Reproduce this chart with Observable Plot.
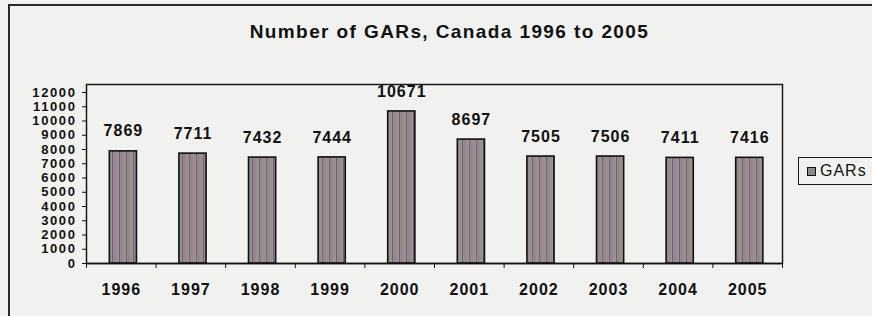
<!DOCTYPE html>
<html>
<head>
<meta charset="utf-8">
<script src="https://cdn.jsdelivr.net/npm/d3@7"></script>
<script src="https://cdn.jsdelivr.net/npm/@observablehq/plot@0.6"></script>
<style>
  html, body { margin: 0; padding: 0; background: #f1f1ef; overflow: hidden; }
  #wrap { position: relative; width: 872px; height: 316px; overflow: hidden; font-family: "Liberation Sans", Arial, sans-serif; color: #111; }
  #outer { position: absolute; left: 8px; top: 4px; width: 900px; height: 400px; border: 2px solid #2a2a2a; }
  #title { position: absolute; left: 0; width: 899px; top: 22px; text-align: center; font-size: 19px; font-weight: bold; letter-spacing: 1.4px; line-height: 1; white-space: nowrap; }
  #chart { position: absolute; left: 0; top: 0; }
  #chart svg text { letter-spacing: 1px; }
  #chart svg g[aria-label="y-axis tick label"] text { letter-spacing: 1.6px; }
  #legend { position: absolute; left: 798px; top: 157px; width: 100px; height: 26px; border: 1.5px solid #1a1a1a; display: flex; align-items: center; font-size: 16px; letter-spacing: 1px; }
  #legend .sw { width: 7px; height: 7px; border: 1.5px solid #111; margin-left: 8px; margin-right: 4px; background: #8e8a8c; }
</style>
</head>
<body>
<div id="wrap">
  <div id="outer"></div>
  <div id="chart"></div>
  <div id="title">Number of GARs, Canada 1996 to 2005</div>
  <div id="legend"><span class="sw"></span><span>GARs</span></div>
</div>
<script>
const years = [1996, 1997, 1998, 1999, 2000, 2001, 2002, 2003, 2004, 2005];
const gars = [7869, 7711, 7432, 7444, 10671, 8697, 7505, 7506, 7411, 7416];
const yTicks = [0, 1000, 2000, 3000, 4000, 5000, 6000, 7000, 8000, 9000, 10000, 11000, 12000];

const data = years.map((y, i) => ({year: y, value: gars[i]}));
const boundaries = years.map(y => y - 0.5).concat([years[years.length - 1] + 0.5]);
const half = 0.195;

const chart = Plot.plot({
  width: 872,
  height: 316,
  marginLeft: 86,
  marginRight: 90,
  marginTop: 92,
  marginBottom: 53,
  x: {type: "linear", domain: [boundaries[0], boundaries[boundaries.length - 1]]},
  y: {domain: [0, 12000]},
  style: {background: "transparent", fontFamily: "'Liberation Sans', Arial, sans-serif", color: "#111"},
  marks: [
    Plot.frame({insetTop: -8, stroke: "#1a1a1a", strokeWidth: 1.5}),
    Plot.rectY(data, {x1: d => d.year - half + 0.03, x2: d => d.year + half + 0.03, y: "value", fill: "url(#stripes)", stroke: "#111", strokeWidth: 1.6}),
    Plot.text(data, {x: d => d.year + 0.03, y: "value", text: d => String(d.value), dy: -20, fontSize: 16, fontWeight: "bold", fill: "#111"}),
    Plot.axisY({ticks: yTicks, tickSize: 4, tickPadding: 6, tickFormat: d => String(d), fontSize: 13, fontWeight: "bold", label: null, stroke: "#111"}),
    Plot.axisX({ticks: boundaries, tickSize: 5, tickFormat: () => "", label: null, stroke: "#111"}),
    Plot.axisX({ticks: years, tickSize: 0, tickPadding: 20, tickFormat: d => String(d), fontSize: 16, fontWeight: "bold", label: null}),
    Plot.ruleY([0], {stroke: "#111", strokeWidth: 1.5})
  ]
});

const ns = "http://www.w3.org/2000/svg";
const defs = document.createElementNS(ns, "defs");
defs.innerHTML = `
  <pattern id="stripes" patternUnits="userSpaceOnUse" width="7" height="7">
    <rect width="7" height="7" fill="#9a9693"/>
    <rect x="0" width="1.2" height="7" fill="#735a88"/>
    <rect x="2.3" width="1.2" height="7" fill="#a87284"/>
    <rect x="4.6" width="1.2" height="7" fill="#84957c"/>
  </pattern>`;
chart.insertBefore(defs, chart.firstChild);
document.getElementById("chart").appendChild(chart);
</script>
</body>
</html>
